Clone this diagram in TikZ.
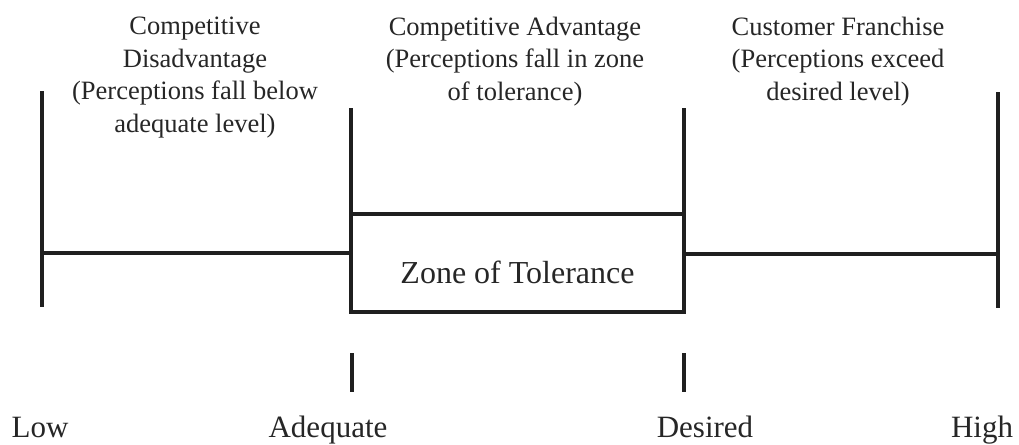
\documentclass[tikz,border=0pt]{standalone}
\usepackage{fontspec}
\setmainfont{Liberation Serif}
\begin{document}
\begin{tikzpicture}[x=1pt, y=-1pt,
  ink/.style={draw=black!88},
  rule/.style={ink, line width=3.2pt, line cap=butt},
  head/.style={align=center, anchor=base, inner sep=0pt, text=black!85,
    font=\fontsize{26.5}{32.5}\selectfont},
  level/.style={anchor=base, inner sep=0pt, text=black!85,
    font=\fontsize{31}{36}\selectfont}]
\useasboundingbox (0,0) rectangle (1019,444);

% scale end points and level markers
\coordinate (lowtop) at (42,91);
\coordinate (lowbot) at (42,307);
\coordinate (lowmid) at (42,253);
\coordinate (adqtop) at (351,108);
\coordinate (adqbot) at (351,312);
\coordinate (adqmid) at (351,253);
\coordinate (destop) at (684,108);
\coordinate (desbot) at (684,312);
\coordinate (desmid) at (684,254);
\coordinate (hightop) at (998,92);
\coordinate (highbot) at (998,308);
\coordinate (highmid) at (998,254);
\coordinate (adqtickA) at (352,353);
\coordinate (adqtickB) at (352,392);
\coordinate (destickA) at (684,353);
\coordinate (destickB) at (684,392);

% zone of tolerance box
\node[rule, minimum width=333pt, inner sep=0pt, text height=69pt, text depth=29pt,
  anchor=base, text=black!85, font=\fontsize{32}{38}\selectfont]
  (zone) at (517.5,283) {Zone of Tolerance};

% vertical bounds
\draw[rule] (lowtop) -- (lowbot);
\draw[rule] (adqtop) -- (adqbot);
\draw[rule] (destop) -- (desbot);
\draw[rule] (hightop) -- (highbot);

% horizontal scale segments
\draw[rule] (lowmid) -- (adqmid);
\draw[rule] (desmid) -- (highmid);

% level ticks
\draw[rule] (adqtickA) -- (adqtickB);
\draw[rule] (destickA) -- (destickB);

% region headings (anchored at the baseline of their last line)
\node[head] (disadv) at (195,132) {Competitive\\Disadvantage\\(Perceptions fall below\\adequate level)};
\node[head] (adv) at (515,100) {Competitive Advantage\\(Perceptions fall in zone\\of tolerance)};
\node[head] (franchise) at (838,100) {Customer Franchise\\(Perceptions exceed\\desired level)};

% scale labels
\node[level] (low) at (40,437) {Low};
\node[level] (adequate) at (328,437) {Adequate};
\node[level] (desired) at (705,437) {Desired};
\node[level] (high) at (982,437) {High};
\end{tikzpicture}
\end{document}
